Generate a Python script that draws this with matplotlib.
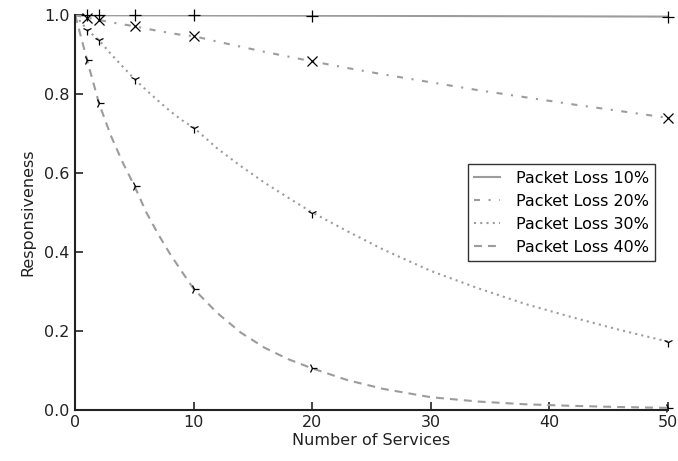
import matplotlib
matplotlib.use("Agg")
import matplotlib.pyplot as plt

# Responsiveness vs. number of services for several packet-loss rates
services = [0, 1, 2, 3, 4, 5, 6, 7, 8, 9, 10, 12, 14, 16, 18, 20,
            23, 26, 30, 34, 38, 42, 46, 50]
marker_services = [1, 2, 5, 10, 20, 50]

loss10 = [1.000, 0.9999, 0.9998, 0.9998, 0.9997, 0.9997, 0.9996, 0.9996, 0.9995,
          0.9995, 0.9994, 0.9993, 0.9992, 0.9991, 0.999, 0.9988, 0.9986, 0.9984,
          0.998, 0.9977, 0.9974, 0.9971, 0.9968, 0.9965]
loss20 = [1.000, 0.994, 0.988, 0.982, 0.977, 0.972, 0.966, 0.960, 0.955,
          0.950, 0.947, 0.933, 0.920, 0.907, 0.895, 0.883, 0.866, 0.850,
          0.830, 0.810, 0.792, 0.774, 0.757, 0.740]
loss30 = [1.000, 0.963, 0.937, 0.902, 0.870, 0.838, 0.810, 0.783, 0.757,
          0.734, 0.715, 0.662, 0.617, 0.575, 0.537, 0.500, 0.452, 0.406,
          0.352, 0.308, 0.268, 0.234, 0.202, 0.173]
loss40 = [1.000, 0.886, 0.777, 0.695, 0.627, 0.567, 0.500, 0.445, 0.395,
          0.350, 0.306, 0.245, 0.195, 0.157, 0.128, 0.105, 0.075, 0.053,
          0.032, 0.021, 0.014, 0.010, 0.007, 0.005]

labels = ["Packet Loss 10%", "Packet Loss 20%", "Packet Loss 30%", "Packet Loss 40%"]
series = [loss10, loss20, loss30, loss40]
styles = ["-", (0, (2.9, 4.1, 1.0, 4.1)), (0, (1.0, 2.0)), (0, (3.8, 2.9))]
markers = ["+", "x", "1", "4"]
marker_sizes = [8, 7.5, 7, 7]

fig = plt.figure(figsize=(6.78, 4.61), dpi=100)
ax = fig.add_axes([0.111, 0.111, 0.874, 0.856])

line_color = "#9c9c9c"
for ys, lab, ls, mk, ms in zip(series, labels, styles, markers, marker_sizes):
    ax.plot(services, ys, color=line_color, linestyle=ls, linewidth=1.5, label=lab)
    mys = [y for x, y in zip(services, ys) if x in marker_services]
    ax.plot(marker_services, mys, linestyle="none", marker=mk, color="black",
            markersize=ms, markeredgewidth=0.9, clip_on=False, label="_nolegend_")

ax.set_xlim(0, 50)
ax.set_ylim(0, 1.0)
ax.set_xticks([0, 10, 20, 30, 40, 50])
ax.set_yticks([0.0, 0.2, 0.4, 0.6, 0.8, 1.0])
ax.set_yticklabels(["0.0", "0.2", "0.4", "0.6", "0.8", "1.0"])

for side in ("top", "right"):
    ax.spines[side].set_visible(False)
for side in ("left", "bottom"):
    ax.spines[side].set_linewidth(1.5)
    ax.spines[side].set_color("#222222")

ax.tick_params(direction="in", length=6, width=1.2, labelsize=11.5,
               colors="#222222", pad=4, top=False, right=False)

ax.set_xlabel("Number of Services", fontsize=11.5, color="#222222", labelpad=2)
ax.set_ylabel("Responsiveness", fontsize=11.5, color="#222222", labelpad=6)

leg = ax.legend(loc="center right", fontsize=11.5, frameon=True, fancybox=False,
                handlelength=1.6, borderaxespad=0.8, labelspacing=0.5,
                handletextpad=1.0)
leg.get_frame().set_edgecolor("black")
leg.get_frame().set_linewidth(1.0)

fig.savefig("out.png", dpi=100)
